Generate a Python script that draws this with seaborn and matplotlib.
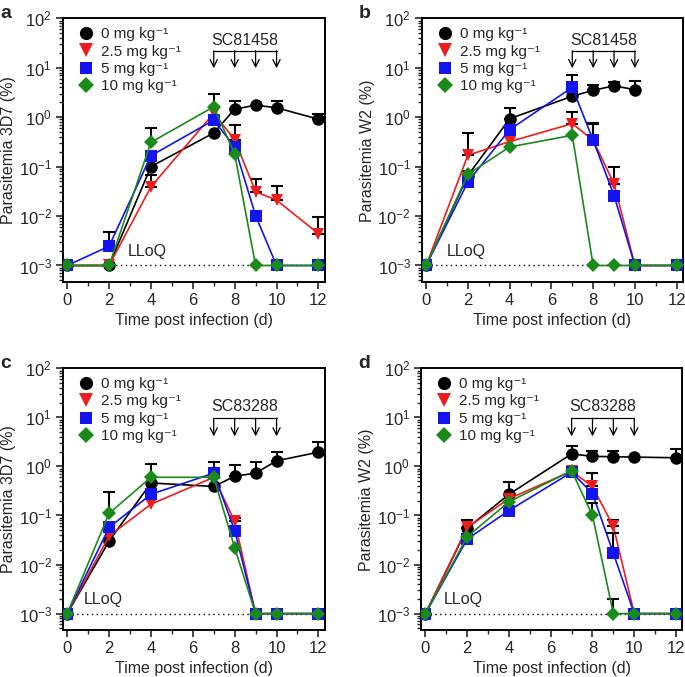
import numpy as np
import pandas as pd
import matplotlib
import matplotlib.pyplot as plt
import seaborn as sns
from matplotlib.ticker import LogLocator, MultipleLocator, NullFormatter
from matplotlib.lines import Line2D

matplotlib.use('Agg')

nan = np.nan

# ---- data ----
days = [0, 2, 4, 7, 8, 9, 10, 12]
doses = ['0 mg kg⁻¹', '2.5 mg kg⁻¹', '5 mg kg⁻¹', '10 mg kg⁻¹']

# panel a: 3D7, SC81458
a_0 = [1e-3, 1e-3, 0.10, 0.48, 1.45, 1.75, 1.55, 0.91]
a_25 = [1e-3, 1e-3, 0.039, 1.2, 0.35, 0.031, 0.021, 0.0044]
a_5 = [1e-3, 0.00245, 0.166, 0.87, 0.25, 0.0102, 1e-3, 1e-3]
a_10 = [1e-3, 1e-3, 0.31, 1.62, 0.18, 1e-3, 1e-3, 1e-3]
a_0_up = [nan, nan, nan, nan, 2.15, nan, 2.15, 1.15]
a_25_up = [nan, nan, 0.069, nan, 0.69, 0.055, 0.04, 0.0095]
a_5_up = [nan, 0.0048, nan, nan, nan, nan, nan, nan]
a_10_up = [nan, nan, 0.6, 2.9, nan, nan, nan, nan]

# panel b: W2, SC81458
b_0 = [1e-3, 0.066, 0.93, 2.65, 3.5, 4.3, 3.6, nan]
b_25 = [1e-3, 0.17, 0.32, 0.74, 0.34, 0.045, 1e-3, 1e-3]
b_5 = [1e-3, 0.049, 0.56, 4.0, 0.34, 0.026, 1e-3, 1e-3]
b_10 = [1e-3, 0.07, 0.25, 0.43, 1e-3, 1e-3, 1e-3, 1e-3]
b_0_up = [nan, 0.08, 1.55, nan, 4.5, 5.2, 5.3, nan]
b_25_up = [nan, 0.47, nan, 1.28, 0.75, 0.098, nan, nan]
b_5_up = [nan, nan, nan, 7.1, 0.72, nan, nan, nan]
b_10_up = [nan] * 8

# panel c: 3D7, SC83288
c_0 = [1e-3, 0.030, 0.46, 0.39, 0.63, 0.73, 1.3, 1.95]
c_25 = [1e-3, 0.038, 0.17, 0.6, 0.076, 1e-3, 1e-3, 1e-3]
c_5 = [1e-3, 0.057, 0.27, 0.73, 0.049, 1e-3, 1e-3, 1e-3]
c_10 = [1e-3, 0.11, 0.6, 0.6, 0.022, 1e-3, 1e-3, 1e-3]
c_0_up = [nan, nan, nan, 1.25, 1.07, 1.25, 2.0, 3.2]
c_25_up = [nan, nan, nan, nan, 0.09, nan, nan, nan]
c_5_up = [nan] * 8
c_10_up = [nan, 0.3, 1.12, nan, nan, nan, nan, nan]

# panel d: W2, SC83288
d_0 = [1e-3, 0.055, 0.27, 1.8, 1.6, 1.58, 1.55, 1.5]
d_25 = [1e-3, 0.057, 0.22, 0.8, 0.39, 0.06, 1e-3, 1e-3]
d_5 = [1e-3, 0.033, 0.126, 0.76, 0.28, 0.017, 1e-3, 1e-3]
d_10 = [1e-3, 0.037, 0.19, 0.82, 0.1, 1e-3, 1e-3, 1e-3]
d_0_up = [nan, 0.08, 0.49, 2.6, 2.1, 2.1, nan, 2.3]
d_25_up = [nan, nan, nan, nan, 0.73, 0.08, nan, nan]
d_5_up = [nan, nan, nan, nan, nan, 0.044, nan, nan]
d_10_up = [nan, nan, nan, nan, 0.18, 0.002, nan, nan]

panels = [
    ('a', 'Parasitemia 3D7 (%)', 'SC81458', [a_0, a_25, a_5, a_10], [a_0_up, a_25_up, a_5_up, a_10_up]),
    ('b', 'Parasitemia W2 (%)', 'SC81458', [b_0, b_25, b_5, b_10], [b_0_up, b_25_up, b_5_up, b_10_up]),
    ('c', 'Parasitemia 3D7 (%)', 'SC83288', [c_0, c_25, c_5, c_10], [c_0_up, c_25_up, c_5_up, c_10_up]),
    ('d', 'Parasitemia W2 (%)', 'SC83288', [d_0, d_25, d_5, d_10], [d_0_up, d_25_up, d_5_up, d_10_up]),
]
drug_days = [7, 8, 9, 10]
lloq = 1e-3

colors = ['black', '#ee1c1c', '#1414f0', '#1a8a1a']
markers = ['o', 'v', 's', 'D']
msizes = [9, 9, 8, 7.5]

sns.set_style('ticks')
plt.rcParams['font.family'] = ['Liberation Sans', 'DejaVu Sans']
plt.rcParams['mathtext.fontset'] = 'custom'
plt.rcParams['mathtext.rm'] = 'Liberation Sans'
plt.rcParams['mathtext.it'] = 'Liberation Sans:italic'

fig = plt.figure(figsize=(6.85, 6.77), dpi=100)
positions = [
    [0.092, 0.583, 0.382, 0.390],
    [0.616, 0.583, 0.381, 0.390],
    [0.092, 0.069, 0.382, 0.387],
    [0.615, 0.069, 0.381, 0.387],
]
text_pos = {'SC81458': (36, 22, 9.8), 'SC83288': (16.6, 9.6, 4.1)}
lloq_x = [2.9, 1.0, 0.8, 0.9]

for i, (letter, ylabel, drug, series, uppers) in enumerate(panels):
    ax = fig.add_axes(positions[i])
    ax.set_yscale('log')

    ax.hlines(lloq, 0, 12, colors='black', linestyles=(0, (1, 2.5)), linewidth=1, zorder=1)

    for j in range(4):
        df = pd.DataFrame({'day': days, 'val': series[j], 'up': uppers[j]})
        e = df.dropna(subset=['val', 'up'])
        ax.errorbar(e['day'], e['val'], yerr=[np.zeros(len(e)), e['up'] - e['val']],
                    fmt='none', ecolor='black', elinewidth=1.5, capsize=4.5, capthick=1.5,
                    zorder=2 + j)
        sns.lineplot(data=df.dropna(subset=['val']), x='day', y='val', ax=ax,
                     color=colors[j], marker=markers[j], markersize=msizes[j],
                     markeredgewidth=0, linewidth=1.2, zorder=3 + j, legend=False)

    ax.set_xlim(-0.2, 12.3)
    ax.set_ylim(10 ** -3.34, 100)
    ax.xaxis.set_major_locator(MultipleLocator(2))
    ax.xaxis.set_minor_locator(MultipleLocator(1))
    ax.yaxis.set_major_locator(LogLocator(base=10, numticks=10))
    ax.yaxis.set_minor_locator(LogLocator(base=10, subs=np.arange(2, 10), numticks=10))
    ax.yaxis.set_minor_formatter(NullFormatter())
    ax.tick_params(which='major', direction='out', length=5, width=1.2, labelsize=12, pad=3)
    ax.tick_params(which='minor', direction='out', length=3, width=1.0)
    for s in ax.spines.values():
        s.set_linewidth(1.4)
        s.set_color('black')

    ax.set_xlabel('Time post infection (d)', fontsize=11.5, labelpad=3)
    ax.set_ylabel(ylabel, fontsize=11.5, labelpad=2)

    # dosing arrows
    ty, by, tipy = text_pos[drug]
    ax.text(8.5, ty, drug, ha='center', va='center', fontsize=11.5)
    ax.plot([drug_days[0], drug_days[-1]], [by, by], color='black', linewidth=0.9)
    for d in drug_days:
        ax.annotate('', xy=(d, tipy), xytext=(d, by),
                    arrowprops=dict(arrowstyle='->', color='black', lw=0.9,
                                    shrinkA=0, shrinkB=0, mutation_scale=13))

    ax.text(lloq_x[i], 10 ** -2.72, 'LLoQ', ha='left', va='center', fontsize=11.5)

    handles = [Line2D([], [], linestyle='none', marker=markers[j], color=colors[j],
                      markersize=msizes[j] + 0.5, markeredgewidth=0) for j in range(4)]
    ax.legend(handles, doses, loc='upper left', bbox_to_anchor=(0.04, 0.978),
              frameon=False, fontsize=11, handletextpad=0.4, labelspacing=0.22,
              handleheight=0.6, borderaxespad=0, handlelength=1.2, borderpad=0.2)

    fig.text(positions[i][0] - 0.092, positions[i][1] + positions[i][3] - 0.005, letter,
             fontsize=14, fontweight='bold', ha='left', va='bottom')

fig.savefig('out.png', dpi=100)
